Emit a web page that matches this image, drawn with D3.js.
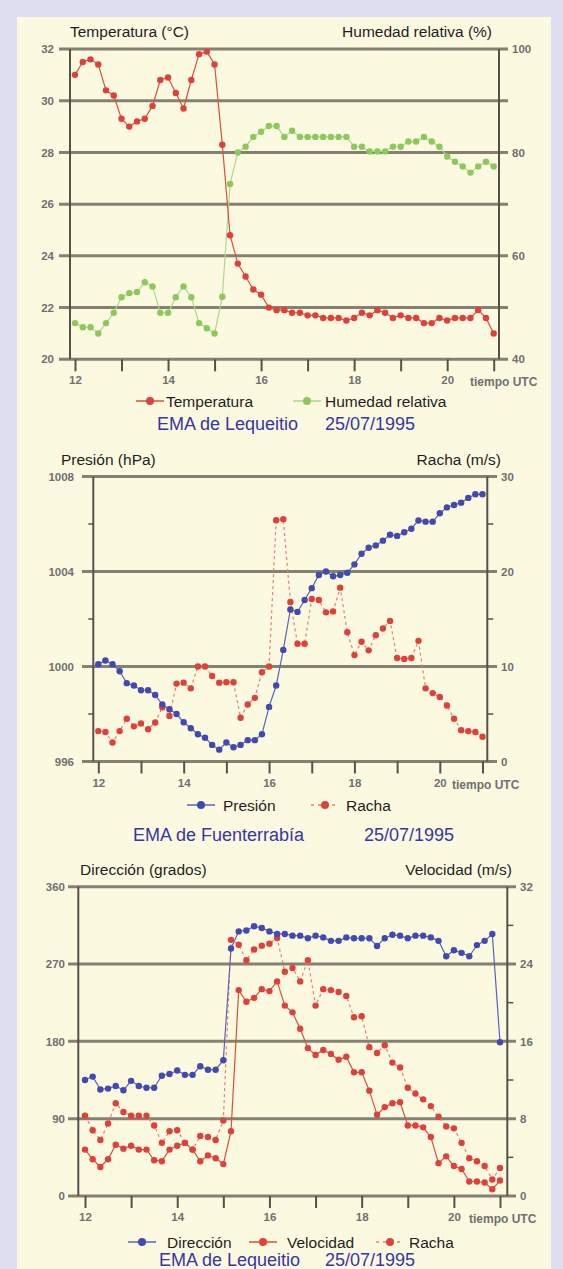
<!DOCTYPE html>
<html>
<head>
<meta charset="utf-8">
<script src="https://cdn.jsdelivr.net/npm/d3@7"></script>
<style>
  body { margin: 0; background: #dedef0; }
  svg { display: block; }
</style>
</head>
<body>
<svg id="chart" width="563" height="1269"></svg>
<script>
// 10-minute observations, 25/07/1995
const times = [
  "12:00","12:10","12:20","12:30","12:40","12:50",
  "13:00","13:10","13:20","13:30","13:40","13:50",
  "14:00","14:10","14:20","14:30","14:40","14:50",
  "15:00","15:10","15:20","15:30","15:40","15:50",
  "16:00","16:10","16:20","16:30","16:40","16:50",
  "17:00","17:10","17:20","17:30","17:40","17:50",
  "18:00","18:10","18:20","18:30","18:40","18:50",
  "19:00","19:10","19:20","19:30","19:40","19:50",
  "20:00","20:10","20:20","20:30","20:40","20:50",
  "21:00"
];

// EMA de Lequeitio
const temperatura = [
  31.0, 31.5, 31.6, 31.4, 30.4, 30.2, 29.3, 29.0, 29.2, 29.3, 29.8, 30.8,
  30.9, 30.3, 29.7, 30.8, 31.8, 31.9, 31.4, 28.3, 24.8, 23.7, 23.2, 22.7,
  22.5, 22.0, 21.9, 21.9, 21.8, 21.8, 21.7, 21.7, 21.6, 21.6, 21.6, 21.5,
  21.6, 21.8, 21.7, 21.9, 21.8, 21.6, 21.7, 21.6, 21.6, 21.4, 21.4, 21.6,
  21.5, 21.6, 21.6, 21.6, 21.9, 21.6, 21.0
];
const humedad = [
  47.0, 46.2, 46.2, 45.0, 47.0, 49.0, 52.0, 52.8, 53.0, 54.9, 54.1, 49.0,
  49.0, 52.0, 54.1, 52.0, 47.0, 46.0, 45.0, 52.1, 73.9, 80.0, 81.1, 83.0,
  84.0, 85.1, 85.1, 83.0, 84.2, 83.0, 83.0, 83.0, 83.0, 83.0, 83.0, 83.0,
  81.1, 81.1, 80.2, 80.2, 80.2, 81.1, 81.1, 82.1, 82.1, 83.0, 82.1, 81.1,
  79.2, 78.2, 77.3, 76.1, 77.3, 78.2, 77.3
];

// EMA de Fuenterrabía
const presion = [
  1000.1, 1000.25, 1000.1, 999.8, 999.3, 999.2, 999.0, 999.0, 998.8, 998.4,
  998.2, 998.0, 997.65, 997.4, 997.15, 997.0, 996.7, 996.5, 996.8, 996.6,
  996.7, 996.9, 996.9, 997.15, 998.3, 999.2, 1000.7, 1002.4, 1002.3, 1002.8,
  1003.3, 1003.85, 1004.0, 1003.8, 1003.85, 1003.95, 1004.3, 1004.75, 1005.0,
  1005.1, 1005.3, 1005.55, 1005.5, 1005.65, 1005.8, 1006.15, 1006.1, 1006.1,
  1006.45, 1006.7, 1006.8, 1006.9, 1007.1, 1007.25, 1007.25
];
const rachaFuenterrabia = [
  3.2, 3.1, 2.0, 3.2, 4.5, 3.7, 4.0, 3.4, 4.1, 5.7, 4.8, 8.2,
  8.3, 7.7, 10.0, 10.0, 9.0, 8.3, 8.35, 8.35, 4.6, 6.0, 6.7, 9.4,
  10.0, 25.4, 25.5, 16.8, 12.4, 12.4, 17.1, 17.0, 15.7, 15.8, 18.3, 13.6,
  11.2, 12.6, 11.7, 13.3, 14.0, 14.8, 10.9, 10.8, 10.9, 12.7, 7.7, 7.2,
  6.8, 5.9, 4.5, 3.3, 3.2, 3.1, 2.6
];

// EMA de Lequeitio (viento)
const direccion = [
  135, 139, 124, 125, 128, 123, 134, 128, 126, 126, 140, 142,
  146, 141, 141, 151, 147, 147, 158, 288, 308, 309, 314, 312,
  308, 305, 305, 303, 303, 300, 303, 301, 297, 297, 301, 300,
  300, 300, 291, 300, 304, 303, 300, 303, 303, 301, 297, 279,
  286, 283, 279, 292, 297, 305, 179
];
const velocidad = [
  4.8, 3.8, 3.0, 3.8, 5.3, 4.9, 5.2, 4.8, 4.8, 3.7, 3.6, 4.8,
  5.2, 5.5, 4.8, 3.6, 4.2, 3.9, 3.3, 6.7, 21.3, 20.1, 20.5, 21.4,
  21.2, 22.2, 19.7, 19.0, 17.3, 15.3, 14.6, 15.1, 14.7, 14.1, 14.4, 12.8,
  12.8, 10.9, 8.4, 9.2, 9.6, 9.7, 7.3, 7.3, 7.1, 6.1, 3.4, 4.1,
  3.1, 2.8, 1.5, 1.5, 1.4, 0.7, 1.6
];
const rachaLequeitio = [
  8.3, 6.8, 5.8, 7.5, 9.6, 8.7, 8.3, 8.3, 8.3, 7.3, 5.5, 6.7,
  6.8, 5.5, 4.8, 6.2, 6.1, 5.8, 7.8, 26.5, 26.0, 24.4, 25.5, 25.9,
  26.1, 26.7, 23.2, 23.6, 22.2, 24.4, 19.7, 21.4, 21.3, 21.1, 20.7, 18.5,
  18.6, 15.4, 14.8, 15.6, 13.8, 13.3, 11.2, 10.6, 10.0, 9.3, 8.2, 7.2,
  7.0, 5.5, 3.9, 3.6, 3.1, 1.7, 2.9
];

// ticks
const hourTicks = [12, 13, 14, 15, 16, 17, 18, 19, 20, 21];
const hourLabels = [12, 14, 16, 18, 20];
const tempTicks = [20, 22, 24, 26, 28, 30, 32];
const humTicks = [40, 60, 80, 100];
const presTicks = [996, 1000, 1004, 1008];
const presMinor = [998, 1002, 1006];
const rachaTicks = [0, 10, 20, 30];
const rachaMinor = [5, 15, 25];
const dirTicks = [0, 90, 180, 270, 360];
const velTicks = [0, 8, 16, 24, 32];
const velMinor = [4, 12, 20, 28];

const hours = times.map(t => {
  const [h, m] = t.split(":");
  return +h + m / 60;
});

const RED = "#e0403a";
const GREEN = "#8cc85a";
const BLUE = "#4249b0";
const GRID = "#858071";
const AXIS = "#55524a";
const TICKTXT = "#707070";
const TITLE = "#3636a6";
const SANS = "'Liberation Sans', Arial, sans-serif";

const svg = d3.select("#chart");

// cream panel
svg.append("rect")
  .attr("x", 17).attr("y", 17)
  .attr("width", 534).attr("height", 1269 - 17)
  .attr("fill", "#fcf9e1");

function drawPanel(p) {
  const g = svg.append("g");

  const x = d3.scaleLinear().domain([12, 21]).range([p.x0, p.x1]);
  const yL = d3.scaleLinear().domain(p.leftDomain).range([p.yBot, p.yTop]);
  const yR = d3.scaleLinear().domain(p.rightDomain).range([p.yBot, p.yTop]);

  // horizontal grid lines
  g.selectAll(".grid")
    .data(p.leftTicks)
    .enter().append("line")
    .attr("x1", p.gridL).attr("x2", p.gridR)
    .attr("y1", d => yL(d)).attr("y2", d => yL(d))
    .attr("stroke", GRID).attr("stroke-width", 3);

  // vertical axes
  [p.axL, p.axR].forEach(ax => {
    g.append("line")
      .attr("x1", ax).attr("x2", ax)
      .attr("y1", p.yTop).attr("y2", p.yBot)
      .attr("stroke", AXIS).attr("stroke-width", 2);
  });

  // minor ticks
  (p.leftMinor || []).forEach(v => {
    g.append("line")
      .attr("x1", p.axL - 5).attr("x2", p.axL)
      .attr("y1", yL(v)).attr("y2", yL(v))
      .attr("stroke", AXIS).attr("stroke-width", 1.5);
  });
  (p.rightMinor || []).forEach(v => {
    g.append("line")
      .attr("x1", p.axR).attr("x2", p.axR + 6)
      .attr("y1", yR(v)).attr("y2", yR(v))
      .attr("stroke", AXIS).attr("stroke-width", 1.5);
  });

  // left tick labels
  const left = g.append("g")
    .attr("transform", `translate(${p.labL},0)`)
    .call(d3.axisLeft(yL).tickValues(p.leftTicks).tickSize(0).tickPadding(0)
      .tickFormat(d3.format("d")));
  left.select(".domain").remove();

  // right tick labels
  const right = g.append("g")
    .attr("transform", `translate(${p.labR},0)`)
    .call(d3.axisRight(yR).tickValues(p.rightTicks).tickSize(0).tickPadding(0)
      .tickFormat(d3.format("d")));
  right.select(".domain").remove();

  // time axis
  const bottom = g.append("g")
    .attr("transform", `translate(0,${p.yBot})`)
    .call(d3.axisBottom(x).tickValues(hourTicks).tickSize(12).tickPadding(5)
      .tickFormat(d => hourLabels.includes(d) ? d : ""));
  bottom.select(".domain").remove();
  bottom.selectAll(".tick line").attr("stroke", AXIS).attr("stroke-width", 2);

  [left, right, bottom].forEach(a => {
    a.selectAll("text")
      .attr("fill", TICKTXT)
      .style("font-family", SANS)
      .style("font-size", "11.5px")
      .style("font-weight", "bold");
  });

  g.append("text")
    .attr("x", p.utcX).attr("y", p.yBot + 27)
    .attr("fill", TICKTXT)
    .style("font-family", SANS).style("font-size", "12px").style("font-weight", "bold")
    .text("tiempo UTC");

  // axis titles
  g.append("text")
    .attr("x", p.leftTitleX).attr("y", p.yTop - 12)
    .style("font-family", SANS).style("font-size", "15.5px").attr("fill", "#1e1e1e")
    .text(p.leftTitle);
  g.append("text")
    .attr("x", p.rightTitleX).attr("y", p.yTop - 12)
    .attr("text-anchor", "end")
    .style("font-family", SANS).style("font-size", "15.5px").attr("fill", "#1e1e1e")
    .text(p.rightTitle);

  // series
  p.series.forEach(s => {
    const y = s.axis === "right" ? yR : yL;
    const line = d3.line().x((d, i) => x(hours[i])).y(d => y(d));
    g.append("path")
      .datum(s.values)
      .attr("d", line)
      .attr("fill", "none")
      .attr("stroke", s.lineColor)
      .attr("stroke-width", 1.2)
      .attr("stroke-dasharray", s.dash ? "3,3" : null);
    g.append("g")
      .selectAll("circle")
      .data(s.values)
      .enter().append("circle")
      .attr("cx", (d, i) => x(hours[i]))
      .attr("cy", d => y(d))
      .attr("r", 3.2)
      .attr("fill", s.color);
  });

  // legend
  p.series.forEach(s => {
    const lg = g.append("g").attr("transform", `translate(0,${p.legendY})`);
    lg.append("line")
      .attr("x1", s.legendX - 14).attr("x2", s.legendX + 14)
      .attr("stroke", s.lineColor).attr("stroke-width", 1.5)
      .attr("stroke-dasharray", s.dash ? "3,4" : null);
    lg.append("circle").attr("cx", s.legendX).attr("r", 4).attr("fill", s.color);
    lg.append("text")
      .attr("x", s.legendTextX).attr("y", 5.5)
      .style("font-family", SANS).style("font-size", "15.5px").attr("fill", "#1e1e1e")
      .text(s.name);
  });

  // station title
  p.caption.forEach(c => {
    g.append("text")
      .attr("x", c.x).attr("y", p.captionY)
      .style("font-family", SANS).style("font-size", "18px").attr("fill", TITLE)
      .text(c.text);
  });
}

drawPanel({
  x0: 75, x1: 493.7, yTop: 49, yBot: 359.3,
  axL: 70, axR: 499, gridL: 59, gridR: 508, labL: 54, labR: 512,
  leftDomain: [20, 32], rightDomain: [40, 100],
  leftTicks: tempTicks, rightTicks: humTicks,
  utcX: 470,
  leftTitle: "Temperatura (°C)", leftTitleX: 70,
  rightTitle: "Humedad relativa (%)", rightTitleX: 492,
  legendY: 401, captionY: 430,
  series: [
    { name: "Humedad relativa", values: humedad, axis: "right", color: GREEN, lineColor: "#a9d890",
      legendX: 307, legendTextX: 325 },
    { name: "Temperatura", values: temperatura, axis: "left", color: RED, lineColor: "#d9503c",
      legendX: 150, legendTextX: 166 }
  ],
  caption: [{ x: 157, text: "EMA de Lequeitio" }, { x: 325, text: "25/07/1995" }]
});

drawPanel({
  x0: 98.3, x1: 482.5, yTop: 476.5, yBot: 761.5,
  axL: 93.3, axR: 487.3, gridL: 82, gridR: 497, labL: 74, labR: 501,
  leftDomain: [996, 1008], rightDomain: [0, 30],
  leftTicks: presTicks, rightTicks: rachaTicks,
  leftMinor: presMinor, rightMinor: rachaMinor,
  utcX: 452,
  leftTitle: "Presión (hPa)", leftTitleX: 61,
  rightTitle: "Racha (m/s)", rightTitleX: 501,
  legendY: 805, captionY: 841,
  series: [
    { name: "Racha", values: rachaFuenterrabia, axis: "right", color: RED, lineColor: "#e6806e", dash: true,
      legendX: 325, legendTextX: 346 },
    { name: "Presión", values: presion, axis: "left", color: BLUE, lineColor: "#5a62c0",
      legendX: 201, legendTextX: 223 }
  ],
  caption: [{ x: 133, text: "EMA de Fuenterrabía" }, { x: 364, text: "25/07/1995" }]
});

drawPanel({
  x0: 85, x1: 500, yTop: 886.7, yBot: 1196,
  axL: 78.3, axR: 507.3, gridL: 68, gridR: 516, labL: 65, labR: 520,
  leftDomain: [0, 360], rightDomain: [0, 32],
  leftTicks: dirTicks, rightTicks: velTicks,
  rightMinor: velMinor,
  utcX: 469,
  leftTitle: "Dirección (grados)", leftTitleX: 80,
  rightTitle: "Velocidad (m/s)", rightTitleX: 512,
  legendY: 1242, captionY: 1266,
  series: [
    { name: "Racha", values: rachaLequeitio, axis: "right", color: RED, lineColor: "#e6806e", dash: true,
      legendX: 390, legendTextX: 409 },
    { name: "Velocidad", values: velocidad, axis: "right", color: RED, lineColor: "#d9503c",
      legendX: 263, legendTextX: 287 },
    { name: "Dirección", values: direccion, axis: "left", color: BLUE, lineColor: "#5a62c0",
      legendX: 142, legendTextX: 167 }
  ],
  caption: [{ x: 159, text: "EMA de Lequeitio" }, { x: 325, text: "25/07/1995" }]
});
</script>
</body>
</html>
